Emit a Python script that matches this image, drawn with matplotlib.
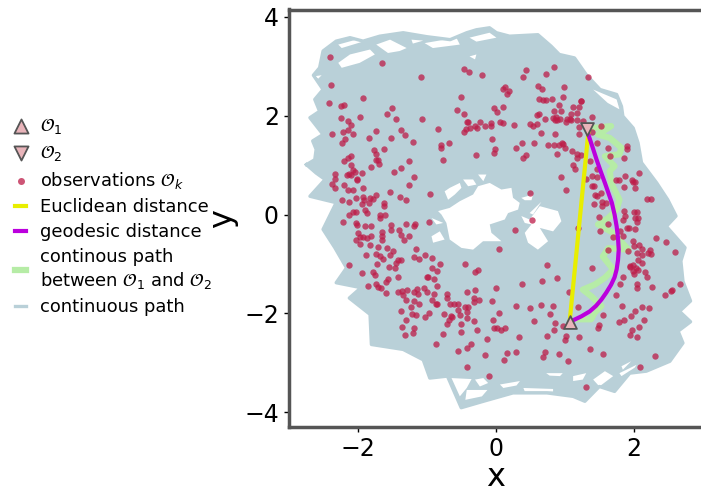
"""
Observations on a continuous 2D path, Euclidean vs geodesic distance.
"""

import numpy as np
import matplotlib
matplotlib.use('Agg')
import matplotlib.pyplot as plt

# ─── Observations ─────────────────────────────────────────────────────────
obs = np.array([
    (-2.40,3.18),(-1.65,3.07),(-2.38,2.63),(-1.08,2.79),(-0.46,2.94),(-0.39,2.89),(-0.20,2.83),(0.44,2.92),
    (0.40,2.79),(0.73,2.85),(0.85,2.98),(1.34,2.78),(0.61,2.61),(0.67,2.54),(0.99,2.59),(0.10,2.55),
    (0.13,2.58),(0.19,2.50),(0.16,2.44),(-0.50,2.37),(-1.92,2.36),(-2.42,2.25),(-2.24,2.20),(-2.19,2.21),
    (-1.50,2.16),(-1.58,2.03),(-1.44,1.94),(-1.97,1.98),(-2.24,1.95),(-2.14,1.90),(-2.10,1.81),(-2.14,1.71),
    (-2.21,1.67),(-2.37,1.63),(-2.06,1.63),(-1.73,1.69),(-1.37,1.71),(-1.31,1.62),(-1.83,1.55),(-1.51,1.54),
    (-2.18,1.53),(-2.23,1.44),(-1.20,1.46),(-1.07,1.94),(-0.83,1.73),(-0.56,2.11),(-0.46,2.04),(-0.02,2.16),
    (0.10,2.17),(0.02,2.07),(-0.41,1.88),(-0.40,1.87),(-0.43,1.74),(-0.46,1.67),(-0.37,1.76),(-0.30,1.79),
    (-0.27,1.75),(-0.23,1.87),(-0.16,1.80),(-0.07,1.86),(-0.07,1.80),(0.06,1.88),(0.11,1.86),(0.27,1.82),
    (0.50,1.84),(0.54,1.79),(0.60,1.84),(0.66,1.66),(0.86,1.63),(0.63,2.33),(0.69,2.31),(0.73,2.32),
    (0.82,2.33),(0.98,2.38),(0.91,2.21),(0.85,2.09),(0.95,2.09),(1.12,2.18),(1.21,2.18),(1.24,2.29),
    (1.24,2.30),(1.18,2.06),(1.09,2.04),(0.59,2.01),(0.63,2.04),(0.71,1.94),(0.83,1.95),(0.87,1.98),
    (0.89,1.92),(0.86,1.91),(0.93,1.94),(1.01,1.88),(1.03,1.94),(1.07,1.94),(1.09,1.91),(1.17,1.92),
    (1.27,1.90),(1.39,1.97),(1.21,1.77),(1.39,1.68),(1.20,1.63),(1.53,1.80),(-0.79,1.40),(-0.79,1.34),
    (-0.68,1.45),(-0.05,1.52),(-0.01,1.33),(-0.02,1.24),(-0.29,1.20),(-0.77,1.11),(0.38,1.45),(0.30,1.35),
    (0.56,1.44),(0.44,1.21),(0.40,1.14),(0.76,1.40),(0.84,1.41),(0.91,1.40),(0.96,1.45),(0.97,1.42),
    (1.00,1.35),(1.10,1.28),(0.89,1.22),(1.18,1.23),(1.18,1.14),(1.24,1.21),(1.12,1.00),(1.15,0.92),
    (1.36,1.09),(1.47,1.44),(1.63,1.34),(1.65,1.18),(1.90,1.39),(1.90,1.32),(1.85,1.14),(2.08,0.84),
    (1.87,0.77),(1.74,0.69),(1.79,0.70),(1.97,0.70),(1.98,0.65),(2.01,0.66),(1.86,0.55),(2.01,0.53),
    (1.46,0.92),(1.39,0.78),(1.46,0.75),(1.31,0.72),(0.95,0.76),(1.02,0.49),(1.40,0.57),(1.42,0.57),
    (1.44,0.40),(1.53,0.43),(1.46,0.37),(1.42,0.22),(1.54,0.26),(1.54,0.18),(1.60,0.24),(0.49,0.43),
    (2.19,0.32),(2.25,0.31),(1.85,0.08),(1.87,-0.03),(1.84,-0.11),(2.00,0.05),(2.05,0.05),(2.02,-0.08),
    (2.06,-0.08),(2.05,-0.16),(1.50,-0.05),(1.63,-0.20),(1.51,-0.34),(1.90,-0.28),(1.93,-0.28),(2.02,-0.29),
    (2.32,-0.48),(2.47,-0.55),(1.99,-0.54),(2.00,-0.63),(2.07,-0.61),(1.69,-0.45),(1.80,-0.34),(1.84,-0.44),
    (1.19,-0.28),(0.53,-0.11),(0.28,-0.32),(0.04,-0.69),(-1.62,1.32),(-1.76,1.31),(-1.73,1.23),(-1.74,1.11),
    (-1.70,1.11),(-1.69,1.03),(-2.09,1.19),(-2.14,1.15),(-2.20,1.09),(-2.09,1.00),(-2.07,0.90),(-2.04,0.86),
    (-2.13,0.82),(-2.16,0.81),(-2.10,0.81),(-1.94,0.84),(-2.01,0.72),(-2.01,0.70),(-1.81,0.96),(-2.33,0.82),
    (-2.32,0.72),(-2.37,0.61),(-2.32,0.54),(-2.19,0.59),(-2.14,0.49),(-2.07,0.50),(-1.92,0.54),(-1.48,0.87),
    (-1.37,0.94),(-1.25,1.09),(-1.18,0.75),(-1.25,0.59),(-1.53,0.46),(-1.39,0.36),(-1.30,0.29),(-0.95,0.41),
    (-1.74,0.40),(-1.77,0.32),(-1.82,0.33),(-1.92,0.36),(-1.91,0.29),(-1.84,0.24),(-1.94,0.22),(-2.03,0.33),
    (-2.22,0.30),(-2.13,0.25),(-1.62,0.23),(-1.62,0.18),(-1.89,0.09),(-1.87,0.03),(-2.06,0.05),(-2.02,0.05),
    (-2.13,0.00),(-1.68,-0.01),(-1.60,-0.01),(-1.67,-0.07),(-2.21,-0.15),(-2.03,-0.17),(-2.01,-0.22),(-1.89,-0.23),
    (-1.80,-0.24),(-1.51,-0.22),(-1.30,-0.20),(-1.17,-0.19),(-1.19,-0.24),(-0.96,-0.16),(-1.52,-0.32),(-1.40,-0.32),
    (-1.65,-0.36),(-1.26,-0.43),(-1.37,-0.42),(-1.33,-0.52),(-1.99,-0.38),(-1.97,-0.45),(-1.92,-0.45),(-1.86,-0.47),
    (-1.81,-0.44),(-2.03,-0.51),(-1.65,-0.43),(-1.65,-0.51),(-1.97,-0.59),(-1.82,-0.62),(-1.70,-0.66),(-1.57,-0.67),
    (-1.16,-0.69),(-1.49,-0.73),(-1.88,-0.81),(-1.74,-0.80),(-1.68,-0.83),(-1.63,-0.89),(-1.53,-0.82),(-1.19,-0.86),
    (-1.11,-0.89),(-1.02,-0.81),(-0.93,-0.88),(-1.37,-0.92),(-1.42,-0.91),(-1.45,-0.99),(-2.12,-1.03),(-1.72,-1.00),
    (-1.55,-1.06),(-1.46,-1.09),(-0.81,-1.00),(-0.93,-1.08),(-0.85,-1.15),(-0.45,-1.01),(-1.93,-1.19),(-1.77,-1.16),
    (-1.75,-1.23),(-1.56,-1.30),(-1.42,-1.27),(-1.59,-1.36),(-1.00,-1.26),(-0.98,-1.26),(-0.90,-1.30),(-0.30,-1.16),
    (-0.25,-1.13),(0.74,-1.03),(0.67,-1.34),(0.88,-1.29),(0.38,-1.40),(1.40,-1.09),(-1.85,-1.45),(-1.74,-1.40),
    (-1.70,-1.47),(-1.66,-1.49),(-1.59,-1.59),(-1.28,-1.52),(-1.36,-1.54),(-1.42,-1.57),(-1.34,-1.63),(-1.30,-1.72),
    (-1.14,-1.50),(-1.19,-1.57),(-1.13,-1.61),(-1.04,-1.48),(-0.99,-1.56),(-0.85,-1.45),(-0.89,-1.61),(-1.18,-1.74),
    (-1.11,-1.81),(-1.23,-1.88),(-0.93,-1.73),(-0.87,-1.81),(-0.85,-1.81),(-0.70,-1.61),(-0.71,-1.69),(-0.41,-1.57),
    (-0.30,-1.52),(-0.31,-1.68),(-0.24,-1.73),(-0.32,-1.77),(-0.06,-1.74),(0.01,-1.48),(-0.66,-1.81),(-0.61,-1.82),
    (-0.55,-1.82),(-0.45,-1.87),(-0.40,-1.88),(-0.55,-1.94),(-0.41,-1.97),(-0.52,-2.03),(-1.37,-1.96),(-1.21,-2.02),
    (-1.15,-2.04),(-0.96,-1.99),(-1.02,-2.08),(-0.75,-2.02),(-0.65,-2.05),(-0.63,-2.07),(-0.67,-2.14),(-0.70,-2.21),
    (-0.42,-2.10),(-0.50,-2.21),(-0.31,-2.15),(-1.30,-2.14),(-1.35,-2.27),(-1.18,-2.30),(-1.20,-2.40),(-1.32,-2.43),
    (-0.76,-2.42),(-0.50,-2.38),(-0.27,-2.33),(-0.87,-2.61),(-0.12,-2.51),(-0.04,-2.13),(0.04,-2.00),(-0.02,-2.30),
    (0.02,-2.30),(0.08,-2.34),(0.13,-2.29),(0.29,-1.86),(0.50,-1.90),(0.65,-1.84),(0.83,-1.85),(0.79,-2.01),
    (0.56,-2.16),(0.86,-2.20),(0.84,-2.33),(0.98,-2.25),(0.74,-2.46),(0.34,-2.48),(1.02,-2.46),(1.00,-2.54),
    (1.21,-2.48),(1.06,-1.57),(1.19,-1.88),(-0.54,-2.77),(-0.41,-2.70),(-0.36,-2.63),(-0.15,-2.85),(0.12,-2.94),
    (0.16,-2.81),(0.29,-2.78),(0.71,-2.79),(0.69,-2.89),(0.91,-2.83),(1.04,-2.96),(1.37,-2.73),(1.55,-2.82),
    (2.31,-2.86),(2.09,-3.08),(-0.42,-3.08),(-0.10,-3.27),(1.31,-3.50),(1.49,-2.23),(1.48,-2.30),(1.55,-2.03),
    (1.78,-2.17),(1.86,-2.13),(2.08,-2.27),(1.97,-2.33),(1.94,-2.43),(2.04,-2.47),(1.96,-2.06),(2.01,-1.96),
    (2.14,-2.13),(2.12,-1.88),(2.22,-1.89),(1.83,-1.85),(1.74,-1.62),(1.80,-1.41),(2.05,-1.49),(2.04,-1.41),
    (2.26,-1.47),(2.45,-1.63),(2.54,-1.55),(2.55,-1.53),(2.67,-1.41),(1.84,-1.26),(2.19,-1.27),(2.16,-1.16),
    (1.94,-1.07),(1.99,-1.03),(2.03,-1.08),(1.98,-1.15),(2.06,-1.13),(2.00,-1.20),(2.06,-0.93),(2.11,-0.98),
    (1.94,-1.05),(2.11,-0.82),(2.21,-0.78),(2.25,-0.79),(2.23,-0.72),(2.59,-0.76),(2.05,-0.77),(2.11,-0.69),
    (1.92,-0.74),(1.62,-0.71),
])

# ─── Continuous path: outer trace and the gaps it leaves ──────────────────
path_outer = np.array([
    (-2.74,1.01),(-2.62,1.11),(-2.60,1.32),(-2.65,1.49),(-2.50,1.62),(-2.69,1.96),(-2.55,2.09),(-2.62,2.33),
    (-2.50,2.53),(-2.64,2.82),(-2.55,2.97),(-2.50,3.31),(-2.31,3.51),(-2.11,3.58),(-1.92,3.51),(-1.68,3.61),
    (-1.34,3.68),(-1.00,3.60),(-0.66,3.54),(-0.42,3.68),(-0.28,3.74),(-0.09,3.78),(0.01,3.68),(0.20,3.61),
    (0.61,3.64),(0.80,3.41),(0.92,3.24),(1.14,3.17),(1.31,2.83),(1.51,2.53),(1.75,2.43),(1.82,2.19),
    (1.84,1.99),(1.99,1.75),(2.06,1.45),(2.11,1.05),(2.33,0.64),(2.49,0.30),(2.61,-0.03),(2.47,-0.24),
    (2.74,-0.67),(2.68,-0.94),(2.71,-1.35),(2.82,-1.75),(2.66,-1.96),(2.82,-2.17),(2.64,-2.36),(2.71,-2.60),
    (2.52,-2.97),(2.18,-3.17),(1.94,-3.21),(1.72,-3.58),(1.50,-3.48),(1.29,-3.78),(1.12,-3.68),(0.74,-3.61),
    (0.25,-3.61),(-0.18,-3.78),(-0.50,-3.91),(-0.70,-3.27),(-0.955,-3.31),(-1.05,-2.94),(-1.34,-2.73),(-1.80,-2.63),
    (-1.82,-2.02),(-2.12,-1.69),(-1.95,-1.48),(-2.31,-1.38),(-2.16,-1.08),(-2.33,-0.67),(-2.50,-0.30),(-2.31,0.24),
    (-2.69,0.37),(-2.47,0.71),(-2.60,0.84),(-2.74,1.01),
])

# gaps: the two holes in the middle, then slivers near the rim
gap_hole_main = [(-0.835,0.07),(-0.666,0.135),(-0.52,0.27),(-0.328,0.405),(-0.256,0.573),(-0.087,0.64),(0.082,0.506),
                 (0.227,0.54),(0.25,0.338),(0.347,0.236),(0.323,0.10),(0.178,0.03),(0.13,-0.10),(-0.087,-0.20),
                 (-0.063,-0.37),(0.082,-0.54),(-0.184,-0.54),(-0.328,-0.71),(-0.497,-0.675),(-0.666,-0.506),
                 (-0.714,-0.17),(-0.786,0.0)]
gap_hole_side = [(0.37,-0.03),(0.49,-0.10),(0.637,0.17),(0.90,0.07),(0.95,-0.135),(0.83,-0.34),(0.637,-0.27),
                 (0.757,-0.54),(0.61,-0.71),(0.467,-0.57),(0.42,-0.37),(0.517,-0.20),(0.42,-0.17)]
gap_slivers = [
    [(-0.74,0.47),(-0.666,0.54),(-0.52,0.64),(-0.497,0.54),(-0.593,0.405),(-0.69,0.30)],
    [(-0.473,0.71),(-0.328,0.71),(-0.28,0.607),(-0.40,0.573)],
    [(-0.256,0.81),(-0.135,0.81),(-0.18,0.675)],
    [(0.37,0.338),(0.54,0.405),(0.517,0.29),(0.42,0.29)],
    [(0.49,0.03),(0.66,0.257),(0.54,0.0)],
    [(-0.93,-0.44),(-0.81,-0.34),(-0.74,-0.506),(-0.907,-0.57)],
    [(-0.93,-0.07),(-0.76,-0.17),(-0.86,-0.20)],
    [(-2.28,3.07),(-2.11,3.24),(-1.82,3.34),(-1.75,3.24),(-1.97,3.07),(-2.23,2.97)],
    [(-1.73,3.44),(-1.53,3.54),(-1.29,3.37),(-1.39,3.31),(-1.56,3.27)],
    [(-2.28,3.44),(-2.02,3.54),(-1.90,3.51),(-2.23,3.37)],
    [(-1.22,3.54),(-1.05,3.52),(-1.20,3.46)],
    [(-1.03,3.47),(-0.57,3.58),(-0.52,3.44),(-0.91,3.37)],
    [(-0.38,3.58),(-0.09,3.68),(0.01,3.58),(-0.28,3.50)],
    [(-2.62,2.80),(-2.52,2.82),(-2.57,2.75)],
    [(-0.38,3.20),(-0.28,3.24),(-0.30,3.14)],
    [(1.41,2.53),(1.75,2.33),(1.79,2.13),(1.62,2.26)],
    [(-0.64,-3.31),(-0.35,-3.33),(-0.42,-3.51),(-0.52,-3.68)],
    [(-0.30,-3.34),(-0.18,-3.31),(-0.11,-3.41),(-0.23,-3.48)],
    [(0.06,-3.44),(0.35,-3.37),(0.30,-3.46),(0.11,-3.51)],
    [(0.40,-3.51),(0.83,-3.53),(0.83,-3.58),(0.42,-3.58)],
    [(0.73,-3.21),(0.97,-3.21),(0.93,-3.27),(0.78,-3.26)],
    [(1.12,-3.27),(1.31,-3.21),(1.26,-3.34),(1.12,-3.37)],
    [(1.41,-3.34),(1.58,-3.17),(1.70,-3.27),(1.50,-3.48)],
    [(1.79,-3.21),(2.04,-3.04),(2.01,-3.10),(1.82,-3.27)],
    [(1.82,-3.07),(1.96,-2.97),(1.84,-3.14)],
    [(-0.42,-3.55),(-0.12,-3.55),(-0.20,-3.68),(-0.44,-3.75)],
]

# ─── Distance curves ──────────────────────────────────────────────────────
o1 = (1.08, -2.17)
o2 = (1.32, 1.74)

euclid_x = [1.07, 1.34]
euclid_y = [-2.16, 1.66]

geo_x = [1.34, 1.40, 1.46, 1.52, 1.58, 1.63, 1.68, 1.72, 1.75, 1.77, 1.78, 1.77, 1.75, 1.72, 1.67, 1.60, 1.53, 1.45, 1.36, 1.24, 1.12]
geo_y = [1.62, 1.37, 1.11, 0.87, 0.64, 0.44, 0.24, 0.00, -0.24, -0.48, -0.71, -0.92, -1.11, -1.27, -1.42, -1.58, -1.72, -1.85, -1.96, -2.06, -2.14]

between_x = [1.41, 1.67, 1.48, 1.65, 1.82, 1.79, 1.58, 1.72, 1.65, 1.67, 1.79, 1.75, 1.63, 1.48, 1.70, 1.92, 1.63, 1.55, 1.70, 1.58, 1.43, 1.26, 1.38, 1.53, 1.43, 1.38, 1.21]
between_y = [1.75, 1.79, 1.62, 1.55, 1.35, 1.22, 1.18, 0.98, 0.88, 0.64, 0.30, 0.10, -0.07, -0.20, -0.37, -0.71, -0.68, -0.85, -1.11, -1.28, -1.42, -1.52, -1.65, -1.85, -1.99, -2.12, -2.12]

XTICKS = [-2, 0, 2]
YTICKS = [-4, -2, 0, 2, 4]

PATH_COLOR = '#b9d0d8'
OBS_COLOR = '#bd1c48'
TRI_FACE = '#e8b4ba'
TRI_EDGE = '#555555'

fig = plt.figure(figsize=(7.01, 4.95), dpi=100)
ax = fig.add_axes([288.5 / 701, 68 / 495, 414.5 / 701, 417.5 / 495])

# path body first, gaps cut through it, then the trace on top
ax.fill(path_outer[:, 0], path_outer[:, 1], color=PATH_COLOR, lw=0, zorder=1)
for gap in [gap_hole_main, gap_hole_side] + gap_slivers:
    gap = np.array(gap)
    ax.fill(gap[:, 0], gap[:, 1], color='white', lw=0, zorder=1.1)
ax.plot(path_outer[:, 0], path_outer[:, 1], color=PATH_COLOR, lw=2.4, zorder=1.2,
        label='continuous path')

ax.plot(between_x, between_y, color='#b6eca6', lw=4.5, zorder=2,
        label='continous path\nbetween $\\mathcal{O}_1$ and $\\mathcal{O}_2$')
ax.scatter(obs[:, 0], obs[:, 1], s=21, color=OBS_COLOR, alpha=0.75, lw=0, zorder=3,
           label='observations $\\mathcal{O}_k$')
ax.plot(euclid_x, euclid_y, color='#e8ee00', lw=3, zorder=4, label='Euclidean distance')
ax.plot(geo_x, geo_y, color='#bb00dd', lw=3, zorder=5, label='geodesic distance')
ax.scatter(*o1, marker='^', s=85, facecolor=TRI_FACE, edgecolor=TRI_EDGE, lw=1.3, zorder=6,
           label='$\\mathcal{O}_1$')
ax.scatter(*o2, marker='v', s=85, facecolor=TRI_FACE, edgecolor=TRI_EDGE, lw=1.3, zorder=6,
           label='$\\mathcal{O}_2$')

ax.set_xlim(-3, 3)
ax.set_ylim(-4.3, 4.15)
ax.set_xticks(XTICKS)
ax.set_yticks(YTICKS)
ax.tick_params(labelsize=17, length=3.5, width=1)
ax.set_xlabel('x', fontsize=23, labelpad=1)
ax.set_ylabel('y', fontsize=23, labelpad=4)
for name, spine in ax.spines.items():
    spine.set_color('#555555')
    spine.set_linewidth(2.5)
ax.spines['right'].set_visible(False)

handles, labels = ax.get_legend_handles_labels()
order = ['$\\mathcal{O}_1$', '$\\mathcal{O}_2$', 'observations $\\mathcal{O}_k$', 'Euclidean distance',
         'geodesic distance', 'continous path\nbetween $\\mathcal{O}_1$ and $\\mathcal{O}_2$', 'continuous path']
by_label = dict(zip(labels, handles))
fig.legend([by_label[k] for k in order], order, loc='center left', bbox_to_anchor=(0.022, 0.564),
           frameon=False, fontsize=12.85, handlelength=0.6, handletextpad=0.75, labelspacing=0.4,
           borderpad=0, borderaxespad=0, markerscale=1.1)

fig.savefig('out.png', dpi=100)
